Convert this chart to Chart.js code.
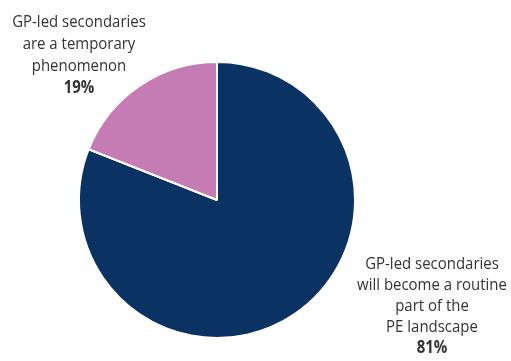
<!DOCTYPE html>
<html>
<head>
<meta charset="utf-8">
<script src="https://cdn.jsdelivr.net/npm/chart.js@4"></script>
<style>
  html, body { margin: 0; padding: 0; background: #fff; }
  #wrap { width: 511px; height: 361px; position: relative; }
</style>
</head>
<body>
<div id="wrap"><canvas id="pie"></canvas></div>
<script>
// Survey answers, share of respondents
var answers = ['GP-led secondaries will become a routine part of the PE landscape',
               'GP-led secondaries are a temporary phenomenon'];
var shares = [81, 19];
var colors = ['#0a3262', '#c57bb3'];

// how each label is broken into lines on the picture
var labelLines = [
  ['GP-led secondaries', 'will become a routine', 'part of the', 'PE landscape'],
  ['GP-led secondaries', 'are a temporary', 'phenomenon']
];

// label blocks: centre x and first line y
var labelSpots = [
  { x: 432, y: 264, step: 21 },
  { x: 79, y: 22, step: 22 }
];

var FONT = '"Open Sans", Lato, sans-serif';
var SQUEEZE = 0.88; // original type is a condensed face

var sliceLabels = {
  id: 'sliceLabels',
  afterDraw: function(chart) {
    var ctx = chart.ctx;
    ctx.save();
    ctx.fillStyle = '#333333';
    ctx.textAlign = 'center';
    ctx.textBaseline = 'middle';
    for (var i = 0; i < labelLines.length; i++) {
      var spot = labelSpots[i];
      var lines = labelLines[i];
      ctx.save();
      ctx.translate(spot.x, spot.y);
      ctx.scale(SQUEEZE, 1);
      ctx.font = '17px ' + FONT;
      for (var j = 0; j < lines.length; j++) {
        ctx.fillText(lines[j], 0, j * spot.step);
      }
      ctx.font = 'bold 17px ' + FONT;
      ctx.fillText(shares[i] + '%', 0, lines.length * spot.step);
      ctx.restore();
    }
    ctx.restore();
  }
};

new Chart(document.getElementById('pie').getContext('2d'), {
  type: 'pie',
  data: {
    labels: answers,
    datasets: [{
      data: shares,
      backgroundColor: colors,
      borderColor: '#ffffff',
      borderWidth: 2
    }]
  },
  options: {
    responsive: true,
    maintainAspectRatio: false,
    animation: false,
    layout: { padding: { left: 78, right: 155, top: 61, bottom: 22 } },
    plugins: {
      legend: { display: false },
      tooltip: { enabled: false }
    }
  },
  plugins: [sliceLabels]
});
</script>
</body>
</html>
